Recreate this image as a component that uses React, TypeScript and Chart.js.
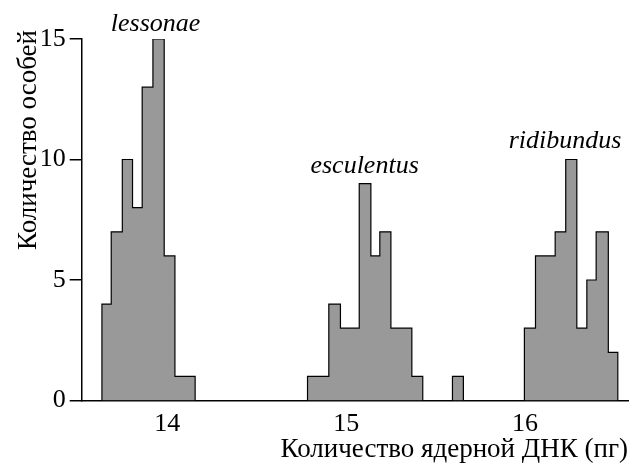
import React, { useEffect, useRef } from 'react';
import { Chart, registerables } from 'chart.js';

Chart.register(...registerables);

// ---- data ----
const xTicks = [14, 15, 16];
const yTicks = [0, 5, 10, 15];

const lessonaeEdges = [13.635, 13.687, 13.749, 13.806, 13.86, 13.92, 13.983, 14.043, 14.156];
const lessonaeCounts = [4, 7, 10, 8, 13, 15, 6, 1];
const esculentusEdges = [14.784, 14.903, 14.968, 15.073, 15.138, 15.188, 15.25, 15.367, 15.428];
const esculentusCounts = [1, 4, 3, 9, 6, 7, 3, 1];
const strayEdges = [15.594, 15.655];
const strayCounts = [1];
const ridibundusEdges = [15.996, 16.058, 16.168, 16.227, 16.289, 16.345, 16.397, 16.465, 16.518];
const ridibundusCounts = [3, 6, 7, 10, 3, 5, 7, 2];

const speciesNames = ['lessonae', 'esculentus', 'ridibundus'];
const speciesLabelX = [13.935, 15.103, 16.223];
const speciesLabelY = [15.32, 9.45, 10.46];

const xTitle = 'Количество ядерной ДНК (пг)';
const yTitle = 'Количество особей';

const FONT = '"Liberation Serif"';

function steps(edges: number[], counts: number[]) {
  const pts: { x: number; y: number }[] = [{ x: edges[0], y: 0 }];
  counts.forEach((c, i) => pts.push({ x: edges[i + 1], y: c }));
  pts.push({ x: edges[edges.length - 1], y: 0 });
  return pts;
}

function histDataset(edges: number[], counts: number[]) {
  return {
    data: steps(edges, counts),
    stepped: 'after' as const,
    fill: 'origin',
    backgroundColor: '#999999',
    borderColor: '#000000',
    borderWidth: 1.2,
    pointRadius: 0,
    pointHoverRadius: 0,
    tension: 0,
  };
}

const labelsPlugin = {
  id: 'speciesLabels',
  afterDatasetsDraw(chart: any) {
    const { ctx, scales } = chart;
    ctx.save();
    ctx.fillStyle = '#000';
    ctx.font = `italic 26px ${FONT}`;
    ctx.textAlign = 'center';
    ctx.textBaseline = 'alphabetic';
    speciesNames.forEach((name, i) => {
      ctx.fillText(name, scales.x.getPixelForValue(speciesLabelX[i]), scales.y.getPixelForValue(speciesLabelY[i]));
    });
    ctx.restore();
  },
  afterDraw(chart: any) {
    const { ctx, chartArea } = chart;
    ctx.save();
    ctx.fillStyle = '#000';
    ctx.font = `27px ${FONT}`;
    ctx.translate(36, chartArea.top - 9);
    ctx.rotate(-Math.PI / 2);
    ctx.textAlign = 'right';
    ctx.textBaseline = 'alphabetic';
    ctx.fillText(yTitle, 0, 0);
    ctx.restore();
  },
};

export default function App() {
  const ref = useRef<HTMLCanvasElement | null>(null);

  useEffect(() => {
    document.body.style.margin = '0';
    const canvas = ref.current;
    if (!canvas) return;
    let chart: Chart | null = null;
    let cancelled = false;

    const build = () => {
      if (cancelled) return;
      chart = new Chart(canvas, {
        type: 'line',
        data: {
          datasets: [
            histDataset(lessonaeEdges, lessonaeCounts),
            histDataset(esculentusEdges, esculentusCounts),
            histDataset(strayEdges, strayCounts),
            histDataset(ridibundusEdges, ridibundusCounts),
          ] as any,
        },
        options: {
          responsive: false,
          animation: false,
          layout: { padding: { top: 39, right: 8, left: 0, bottom: 0 } },
          plugins: {
            legend: { display: false },
            tooltip: { enabled: false },
          },
          scales: {
            x: {
              type: 'linear',
              min: 13.522,
              max: 16.575,
              afterBuildTicks: (s: any) => {
                s.ticks = xTicks.map((v) => ({ value: v }));
              },
              afterFit: (s: any) => {
                s.height = 69.5;
              },
              grid: { display: false, drawTicks: false },
              border: { display: true, color: '#000', width: 1.5 },
              ticks: {
                color: '#000',
                padding: 8,
                font: { family: FONT, size: 26 },
                callback: (v: any) => String(v),
              },
              title: {
                display: true,
                text: xTitle,
                align: 'end',
                color: '#000',
                font: { family: FONT, size: 27 },
                padding: { top: 0, bottom: 3.5 },
              },
            },
            y: {
              type: 'linear',
              min: 0,
              max: 15,
              afterBuildTicks: (s: any) => {
                s.ticks = yTicks.map((v) => ({ value: v }));
              },
              afterFit: (s: any) => {
                s.width = 81.7;
              },
              grid: {
                display: true,
                drawOnChartArea: false,
                drawTicks: true,
                tickLength: 12,
                color: '#000',
                lineWidth: 1.5,
              },
              border: { display: true, color: '#000', width: 1.5 },
              ticks: {
                color: '#000',
                padding: 4,
                font: { family: FONT, size: 26 },
                callback: (v: any) => String(v),
              },
            },
          },
        },
        plugins: [labelsPlugin],
      });
    };

    const fonts: any = (document as any).fonts;
    if (fonts && fonts.load) {
      Promise.all([
        fonts.load(`26px ${FONT}`),
        fonts.load(`italic 26px ${FONT}`),
      ]).then(build, build);
    } else {
      build();
    }

    return () => {
      cancelled = true;
      if (chart) chart.destroy();
    };
  }, []);

  return (
    <div style={{ width: 636, height: 470 }}>
      <span style={{ fontFamily: 'Liberation Serif', position: 'absolute', left: -9999 }}>
        x<i>x</i>
      </span>
      <canvas ref={ref} width={636} height={470} style={{ width: 636, height: 470, display: 'block' }} />
    </div>
  );
}
